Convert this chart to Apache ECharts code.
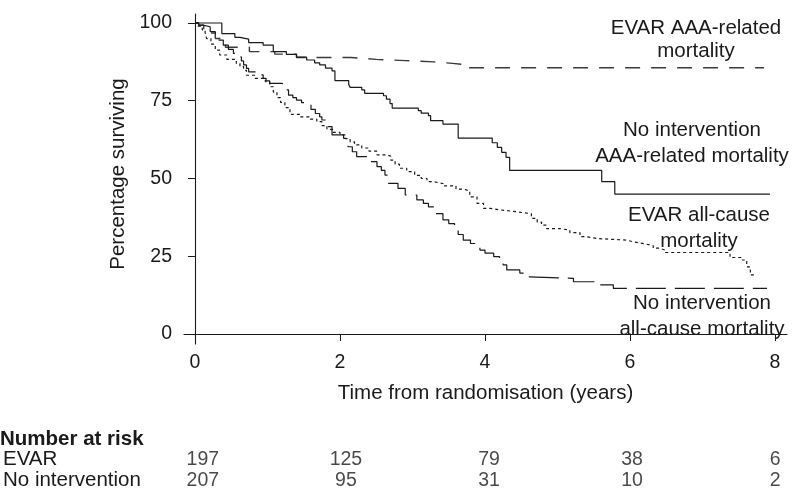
<!DOCTYPE html>
<html>
<head>
<meta charset="utf-8">
<script src="https://cdn.jsdelivr.net/npm/echarts@6/dist/echarts.min.js"></script>
<style>
  html, body { margin: 0; padding: 0; background: #fff; }
  #chart { width: 796px; height: 494px; }
</style>
</head>
<body>
<div id="chart"></div>
<script>
// Kaplan-Meier curves, [years, percentage surviving]
const evarAaa = [
  [0, 100], [0.05, 99.3], [0.12, 98.2], [0.2, 96.8], [0.28, 95.0], [0.36, 93.5],
  [0.42, 92.2], [0.75, 90.8], [1.1, 90.0], [1.4, 88.9], [2.15, 88.3], [2.5, 87.9],
  [2.9, 87.5], [3.3, 87.0], [3.55, 86.6], [3.73, 85.6], [7.85, 85.6]
]
const noIntAaa = [
  [0, 100], [0.37, 96.6], [0.55, 95.4], [0.62, 94.8], [0.74, 93.7], [0.94, 92.9],
  [1.08, 90.8], [1.26, 89.9], [1.4, 89.0], [1.54, 88.1], [1.65, 87.2], [1.72, 86.5],
  [1.8, 85.5], [1.89, 84.6], [1.93, 81.5], [2.12, 80.2], [2.14, 79.3], [2.3, 78.5],
  [2.34, 77.4], [2.6, 76.6], [2.64, 75.5], [2.69, 74.1], [2.72, 72.6], [3.08, 71.8],
  [3.12, 71.0], [3.22, 70.2], [3.25, 68.6], [3.42, 67.5], [3.63, 63.0], [4.1, 61.5],
  [4.17, 60.0], [4.23, 58.4], [4.29, 56.8], [4.34, 52.6], [5.61, 49.0], [5.79, 45.0],
  [7.93, 45.0]
]
const evarAll = [
  [0, 100], [0.04, 99.0], [0.1, 97.8], [0.14, 96.8], [0.16, 95.0], [0.22, 93.2],
  [0.28, 91.3], [0.34, 89.7], [0.44, 88.3], [0.57, 87.0], [0.62, 86.0], [0.67, 84.8],
  [0.71, 83.2], [0.83, 82.2], [0.97, 81.1], [1.03, 79.5], [1.08, 77.8], [1.13, 76.0],
  [1.18, 74.5], [1.24, 72.8], [1.31, 70.6], [1.45, 69.8], [1.59, 69.1], [1.68, 68.3],
  [1.75, 67.0], [1.82, 65.8], [1.9, 64.8], [2.0, 64.0], [2.07, 62.8], [2.14, 61.8],
  [2.2, 60.8], [2.3, 59.8], [2.4, 58.8], [2.51, 57.6], [2.64, 57.2], [2.7, 55.9],
  [2.76, 54.6], [2.82, 53.3], [2.92, 52.2], [3.03, 51.0], [3.12, 50.0], [3.2, 49.0],
  [3.28, 48.4], [3.42, 47.6], [3.6, 46.6], [3.7, 46.0], [3.79, 44.1], [3.89, 42.0],
  [3.98, 40.4], [4.07, 39.9], [4.21, 39.3], [4.44, 39.0], [4.53, 38.7], [4.64, 37.2],
  [4.72, 36.0], [4.78, 35.0], [4.85, 33.9], [5.03, 33.4], [5.17, 32.6], [5.31, 31.3],
  [5.4, 30.7], [5.54, 30.2], [5.95, 29.6], [6.05, 29.0], [6.2, 28.4], [6.32, 27.6],
  [6.41, 27.0], [6.48, 26.2], [7.38, 24.6], [7.55, 23.8], [7.61, 21.6], [7.66, 19.0],
  [7.72, 19.0]
]
const noIntAll = [
  [0, 100], [0.05, 99.3], [0.11, 98.8], [0.21, 97.2], [0.28, 96.1], [0.33, 94.5],
  [0.39, 92.9], [0.46, 91.5], [0.53, 90.2], [0.6, 89.1], [0.64, 87.8], [0.67, 86.5],
  [0.71, 85.4], [0.74, 84.3], [0.9, 83.3], [0.94, 82.2], [0.98, 81.4], [1.03, 80.6],
  [1.2, 80.1], [1.25, 78.5], [1.29, 76.8], [1.35, 76.0], [1.4, 75.2], [1.47, 74.4],
  [1.54, 73.6], [1.6, 72.2], [1.66, 70.9], [1.72, 69.8], [1.75, 68.8], [1.82, 66.7],
  [1.89, 64.0], [2.05, 62.9], [2.11, 60.2], [2.17, 58.6], [2.23, 57.0], [2.39, 55.4],
  [2.51, 53.8], [2.57, 52.6], [2.62, 51.1], [2.67, 48.4], [2.8, 46.8], [2.9, 44.7],
  [3.06, 43.1], [3.15, 42.0], [3.22, 40.9], [3.3, 38.7], [3.42, 36.7], [3.5, 35.5],
  [3.58, 33.9], [3.63, 32.0], [3.7, 30.2], [3.8, 29.1], [3.93, 27.0], [4.0, 26.0],
  [4.12, 24.9], [4.2, 23.8], [4.25, 22.2], [4.3, 20.6], [4.48, 19.6], [4.55, 18.4],
  [4.6, 17.9], [5.22, 16.8], [5.59, 15.8], [5.77, 14.7], [7.89, 14.7]
]

const xTicks = [0, 2, 4, 6, 8]
const yTicks = [0, 25, 50, 75, 100]

// number at risk table
const riskGroups = ['EVAR', 'No intervention']
const riskEvar = [197, 125, 79, 38, 6]
const riskNoInt = [207, 95, 31, 10, 2]

const FONT = 'Liberation Sans, Arial, Helvetica, sans-serif'
const INK = '#1a1a1a'
const FS = 20.5   // titles and labels
const TS = 19.5   // tick labels and counts

const riskData = []
xTicks.forEach((t, i) => {
  riskData.push([t, riskGroups[0], riskEvar[i]])
  riskData.push([t, riskGroups[1], riskNoInt[i]])
})

function km(name, data, type, color, width) {
  return {
    name: name,
    type: 'line',
    step: 'end',
    data: data,
    showSymbol: false,
    symbol: 'none',
    xAxisIndex: 0,
    yAxisIndex: 0,
    lineStyle: { color: color, width: width, type: type },
    emphasis: { disabled: true },
    silent: true
  }
}

const chart = echarts.init(document.getElementById('chart'))
const axisLine = { show: true, lineStyle: { color: INK, width: 1.1 } }
const labelFont = FS + 'px ' + FONT

chart.setOption({
  animation: false,
  backgroundColor: '#fff',
  textStyle: { fontFamily: FONT },
  grid: [
    { left: 184, right: 9, top: 14, bottom: 150 },
    { left: 184, right: 9, top: 449, bottom: 3 }
  ],
  xAxis: [{
    type: 'value',
    gridIndex: 0,
    min: -0.1517,
    max: 8.1655,
    axisLine: axisLine,
    axisTick: { show: true, length: 7, customValues: xTicks, lineStyle: { color: INK } },
    axisLabel: { customValues: xTicks, color: INK, fontSize: TS, fontFamily: FONT, margin: 9 },
    splitLine: { show: false },
    name: 'Time from randomisation (years)',
    nameLocation: 'middle',
    nameGap: 39,
    nameTextStyle: { color: INK, fontSize: FS, fontFamily: FONT }
  }, {
    type: 'value',
    gridIndex: 1,
    min: -0.1517,
    max: 8.1655,
    show: false
  }],
  yAxis: [{
    type: 'value',
    gridIndex: 0,
    min: -3.215,
    max: 102.89,
    axisLine: axisLine,
    axisTick: { show: true, length: 7, customValues: yTicks, lineStyle: { color: INK } },
    axisLabel: { customValues: yTicks, color: INK, fontSize: TS, fontFamily: FONT, margin: 12 },
    splitLine: { show: false },
    name: 'Percentage surviving',
    nameLocation: 'middle',
    nameRotate: 90,
    nameGap: 52,
    nameTextStyle: { color: INK, fontSize: FS, fontFamily: FONT, padding: [0, 0, 0, 10] }
  }, {
    type: 'category',
    gridIndex: 1,
    data: riskGroups,
    inverse: true,
    axisLine: { show: false },
    axisTick: { show: false },
    axisLabel: { interval: 0, align: 'left', margin: 189, color: INK, fontSize: FS, fontFamily: FONT }
  }],
  series: [
    km('EVAR AAA-related mortality', evarAaa, [15, 11], '#3a3a3a', 1.4),
    km('No intervention AAA-related mortality', noIntAaa, 'solid', INK, 1.2),
    km('EVAR all-cause mortality', evarAll, [3, 3], INK, 1.2),
    km('No intervention all-cause mortality', noIntAll, [30, 9], INK, 1.2),
    {
      type: 'scatter',
      xAxisIndex: 1,
      yAxisIndex: 1,
      data: riskData,
      symbolSize: 0,
      silent: true,
      label: {
        show: true,
        position: 'inside',
        color: INK,
        fontSize: TS,
        fontFamily: FONT,
        formatter: p => String(p.value[2])
      }
    }
  ],
  graphic: [
    { type: 'text', left: 0, top: 429, style: { text: 'Number at risk', font: 'bold ' + labelFont, fill: INK } },
    { type: 'text', x: 696, y: 40, style: { text: 'EVAR AAA-related\nmortality', font: labelFont, fill: INK, align: 'center', verticalAlign: 'middle', lineHeight: 23 } },
    { type: 'text', x: 692, y: 143, style: { text: 'No intervention\nAAA-related mortality', font: labelFont, fill: INK, align: 'center', verticalAlign: 'middle', lineHeight: 26 } },
    { type: 'text', x: 699, y: 228, style: { text: 'EVAR all-cause\nmortality', font: labelFont, fill: INK, align: 'center', verticalAlign: 'middle', lineHeight: 26 } },
    { type: 'text', x: 702, y: 316, style: { text: 'No intervention\nall-cause mortality', font: labelFont, fill: INK, align: 'center', verticalAlign: 'middle', lineHeight: 26 } }
  ]
})
</script>
</body>
</html>
